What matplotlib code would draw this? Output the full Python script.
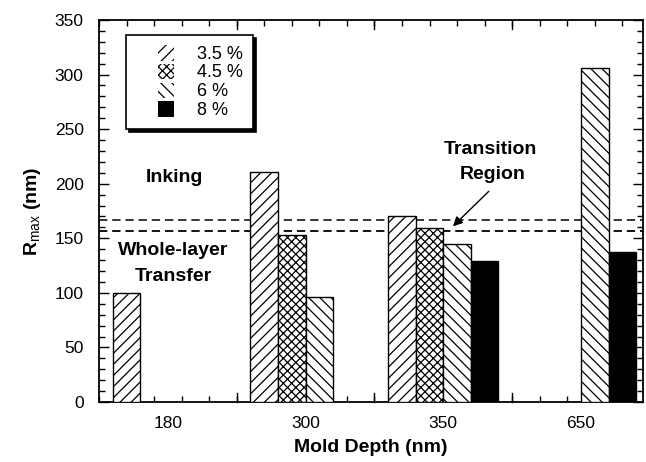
import matplotlib
matplotlib.use("Agg")
import matplotlib.pyplot as plt
from matplotlib.patches import Patch, Rectangle
from matplotlib.legend_handler import HandlerPatch
from matplotlib.ticker import FixedLocator, MultipleLocator
import numpy as np

plt.rcParams['font.family'] = ['Liberation Sans', 'DejaVu Sans']
plt.rcParams['mathtext.fontset'] = 'custom'
plt.rcParams['mathtext.rm'] = 'Liberation Sans'
plt.rcParams['mathtext.bf'] = 'Liberation Sans:bold'
plt.rcParams['hatch.linewidth'] = 0.9
plt.rcParams['lines.scale_dashes'] = False

# ---- data ----
mold_depths = ["180", "300", "350", "650"]
series_labels = ["3.5 %", "4.5 %", "6 %", "8 %"]
r_35 = [100, 211, 170, np.nan]
r_45 = [np.nan, 153, 159, np.nan]
r_6 = [np.nan, 96, 145, 306]
r_8 = [np.nan, np.nan, 129, 137]
threshold_upper = 167
threshold_lower = 157

series = [r_35, r_45, r_6, r_8]
hatches = ['///', 'xxxx', '\\\\\\', None]
faces = ['white', 'white', 'white', 'black']

fig = plt.figure(figsize=(6.46, 4.62), dpi=100)
ax = fig.add_axes([99/646, 1-402/462, (643-99)/646, (402-20)/462])

x = np.arange(len(mold_depths))
w = 0.2
for i, (vals, h, fc) in enumerate(zip(series, hatches, faces)):
    ax.bar(x + (i - 1.5) * w, vals, width=w, facecolor=fc, edgecolor='black',
           hatch=h, linewidth=1.0, zorder=3)

ax.axhline(threshold_upper, color='black', lw=1.1, dashes=(6, 3.5), zorder=2)
ax.axhline(threshold_lower, color='black', lw=1.3, dashes=(6, 3.5), zorder=2)

ax.set_xlim(-0.5, 3.45)
ax.set_ylim(0, 350)
ax.set_xticks(x)
ax.set_xticklabels(mold_depths)
ax.xaxis.set_minor_locator(FixedLocator(np.arange(-0.5, 3.5, 0.2)))
ax.yaxis.set_major_locator(MultipleLocator(50))
ax.yaxis.set_minor_locator(MultipleLocator(10))
ax.tick_params(axis='both', which='both', direction='in', top=True, right=True, width=1.0)
ax.tick_params(axis='x', which='major', length=0, pad=10, labelsize=12.5)
ax.tick_params(axis='y', which='major', length=7, pad=11, labelsize=12.5)
ax.tick_params(axis='both', which='minor', length=4)
# longer x ticks at group boundaries
for xb in [0.5, 1.5, 2.5]:
    ax.plot([xb, xb], [0, 8], color='black', lw=1.0, zorder=1, clip_on=False)
    ax.plot([xb, xb], [350, 342], color='black', lw=1.0, zorder=1, clip_on=False)
for s in ax.spines.values():
    s.set_linewidth(1.3)

ax.set_xlabel("Mold Depth (nm)", fontsize=14, fontweight='bold', labelpad=6)
ax.set_ylabel(r"$\mathbf{R}_{\mathrm{max}}$ (nm)", fontsize=14, fontweight='bold', labelpad=8)

ax.text(0.05, 206, "Inking", ha='center', va='center', fontsize=14, fontweight='bold')
ax.text(0.04, 139, "Whole-layer", ha='center', va='center', fontsize=14, fontweight='bold')
ax.text(0.04, 115, "Transfer", ha='center', va='center', fontsize=14, fontweight='bold')
ax.text(2.34, 231, "Transition", ha='center', va='center', fontsize=14, fontweight='bold')
ax.text(2.36, 208, "Region", ha='center', va='center', fontsize=14, fontweight='bold')
ax.annotate("", xy=(2.07, 161), xytext=(2.33, 193),
            arrowprops=dict(arrowstyle='-|>', color='black', lw=1.0,
                            mutation_scale=14, shrinkA=0, shrinkB=0))


def right_square(legend, orig_handle, xdescent, ydescent, width, height, fontsize):
    side = height * 1.05
    return Rectangle(xy=(-xdescent + width - side, -ydescent - 0.05 * height),
                     width=side, height=side)


handles = [Patch(facecolor=fc, edgecolor='black', hatch=h,
                 linewidth=0) for h, fc in zip(hatches, faces)]
leg = ax.legend(handles, series_labels, loc='upper left',
                bbox_to_anchor=((126-99)/544, 1-(35-20)/382),
                fontsize=13, frameon=True, fancybox=False, edgecolor='black',
                handlelength=2.1, handleheight=0.9, handletextpad=1.3,
                labelspacing=0.06, borderpad=0.55, borderaxespad=0,
                handler_map={Patch: HandlerPatch(patch_func=right_square)},
                shadow={'color': 'black', 'alpha': 1.0})
leg.get_frame().set_linewidth(1.2)
leg.set_zorder(5)

fig.savefig("out.png", dpi=100)
